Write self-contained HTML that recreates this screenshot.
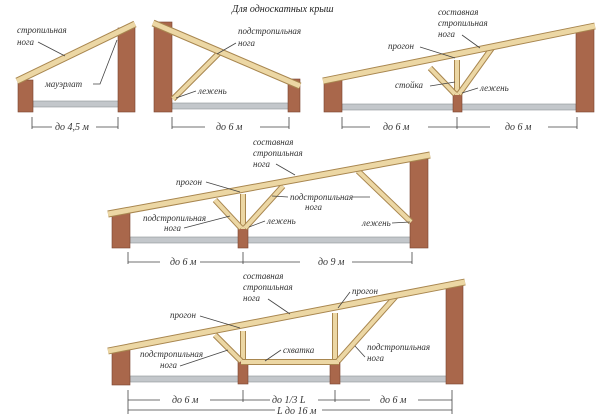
<!DOCTYPE html>
<html><head><meta charset="utf-8"><style>
html,body{margin:0;padding:0;background:#fff;}
svg{display:block}
text{font-family:"Liberation Serif",serif;font-style:italic;font-size:9px;fill:#333}
.d{font-size:10px}
</style></head><body>
<svg width="600" height="418" viewBox="0 0 600 418" xmlns="http://www.w3.org/2000/svg">
<defs>
<g id="x"></g>
</defs>
<style>
.w{fill:#a9674b;stroke:#7a4430;stroke-width:.6}
.bm{fill:#c3c7cb;stroke:#8e9396;stroke-width:.6}
.ro{stroke:#a8864f;stroke-width:7;stroke-linecap:butt}
.ri{stroke:#ecd7a4;stroke-width:5;stroke-linecap:butt}
.so{stroke:#a8864f;stroke-width:6}
.si{stroke:#ecd7a4;stroke-width:4}
.dl{stroke:#444;stroke-width:.8}
.ld{stroke:#444;stroke-width:.8;fill:none}
</style>
<text x="232" y="12" style="font-size:10px;fill:#222">Для односкатных крыш</text>

<!-- Diagram 1 -->
<rect class="bm" x="33" y="101" width="86" height="6"/>
<rect class="w" x="18" y="80" width="15" height="32"/>
<rect class="w" x="118" y="28" width="17" height="84"/>
<line class="ro" x1="17" y1="81" x2="135" y2="24"/><line class="ri" x1="17" y1="81" x2="135" y2="24"/>
<text x="17" y="33">стропильная</text><text x="17" y="45">нога</text>
<path class="ld" d="M38 42 L65 56"/>
<text x="45" y="87">мауэрлат</text><path class="ld" d="M93 84 L100 84 L117 40"/>
<path class="dl" d="M32 117V129M118 117V129M32 127H52M96 127H118"/>
<text class="d" x="55" y="130">до 4,5 м</text>

<!-- Diagram 2 -->
<rect class="bm" x="172" y="103" width="117" height="6"/>
<rect class="w" x="154" y="22" width="18" height="90"/>
<rect class="w" x="288" y="79" width="12" height="33"/>
<line class="so" x1="173" y1="99" x2="220" y2="52"/><line class="si" x1="173" y1="99" x2="220" y2="52"/>
<line class="ro" x1="153" y1="23" x2="300" y2="86"/><line class="ri" x1="153" y1="23" x2="300" y2="86"/>
<text x="238" y="34">подстропильная</text><text x="238" y="46">нога</text>
<path class="ld" d="M236 43 L217 54"/>
<text x="198" y="94">лежень</text><path class="ld" d="M196 91 L176 98"/>
<path class="dl" d="M172 117V129M289 117V129M172 127H205M260 127H289"/>
<text class="d" x="216" y="130">до 6 м</text>

<!-- Diagram 3 -->
<rect class="bm" x="342" y="104" width="234" height="6"/>
<rect class="w" x="324" y="80" width="18" height="32"/>
<rect class="w" x="453" y="94" width="9" height="18"/>
<rect class="w" x="576" y="28" width="18" height="84"/>
<line class="so" x1="457" y1="60" x2="457" y2="95"/><line class="si" x1="457" y1="60" x2="457" y2="95"/>
<line class="so" x1="455" y1="94" x2="430" y2="68"/><line class="si" x1="455" y1="94" x2="430" y2="68"/>
<line class="so" x1="459" y1="94" x2="492" y2="48"/><line class="si" x1="459" y1="94" x2="492" y2="48"/>
<line class="ro" x1="323" y1="81" x2="595" y2="26"/><line class="ri" x1="323" y1="81" x2="595" y2="26"/>
<text x="438" y="15">составная</text><text x="438" y="26">стропильная</text><text x="438" y="37">нога</text>
<path class="ld" d="M462 35 L480 48"/>
<text x="388" y="49">прогон</text><path class="ld" d="M420 47 L455 58"/>
<text x="395" y="88">стойка</text><path class="ld" d="M430 86 L455 82"/>
<text x="480" y="91">лежень</text><path class="ld" d="M478 88 L462 93"/>
<path class="dl" d="M342 117V129M457 117V129M577 117V129M342 127H370M428 127H457M457 127H490M548 127H577"/>
<text class="d" x="383" y="130">до 6 м</text><text class="d" x="505" y="130">до 6 м</text>

<!-- Diagram 4 -->
<rect class="bm" x="130" y="237" width="282" height="6"/>
<rect class="w" x="112" y="211" width="18" height="37"/>
<rect class="w" x="238" y="227" width="10" height="21"/>
<rect class="w" x="410" y="159" width="18" height="89"/>
<line class="so" x1="243" y1="194" x2="243" y2="229"/><line class="si" x1="243" y1="194" x2="243" y2="229"/>
<line class="so" x1="241" y1="228" x2="215" y2="200"/><line class="si" x1="241" y1="228" x2="215" y2="200"/>
<line class="so" x1="245" y1="228" x2="283" y2="186"/><line class="si" x1="245" y1="228" x2="283" y2="186"/>
<line class="so" x1="411" y1="222" x2="358" y2="171"/><line class="si" x1="411" y1="222" x2="358" y2="171"/>
<line class="ro" x1="108" y1="214" x2="430" y2="155"/><line class="ri" x1="108" y1="214" x2="430" y2="155"/>
<text x="253" y="145">составная</text><text x="253" y="156">стропильная</text><text x="253" y="167">нога</text>
<path class="ld" d="M276 164 L295 175"/>
<text x="176" y="185">прогон</text><path class="ld" d="M206 182 L240 192"/>
<text x="143" y="221">подстропильная</text><text x="164" y="231">нога</text>
<path class="ld" d="M184 228 L230 216"/>
<text x="290" y="200">подстропильная</text><text x="305" y="210">нога</text>
<path class="ld" d="M288 197 L272 196"/><path class="ld" d="M352 197 L370 197"/>
<text x="267" y="224">лежень</text><path class="ld" d="M265 221 L249 227"/>
<text x="362" y="226">лежень</text><path class="ld" d="M392 223 L410 222"/>
<path class="dl" d="M128 252V264M243 252V264M412 252V264M128 262H160M200 262H243M243 262H300M352 262H412"/>
<text class="d" x="170" y="265">до 6 м</text><text class="d" x="318" y="265">до 9 м</text>

<!-- Diagram 5 -->
<rect class="bm" x="130" y="376" width="318" height="6"/>
<rect class="w" x="112" y="350" width="18" height="35"/>
<rect class="w" x="238" y="362" width="10" height="22"/>
<rect class="w" x="330" y="362" width="10" height="22"/>
<rect class="w" x="446" y="285" width="17" height="99"/>
<line class="so" x1="243" y1="331" x2="243" y2="362"/><line class="si" x1="243" y1="331" x2="243" y2="362"/>
<line class="so" x1="335" y1="313" x2="335" y2="362"/><line class="si" x1="335" y1="313" x2="335" y2="362"/>
<line class="so" x1="241" y1="362" x2="339" y2="362"/><line class="si" x1="241" y1="362" x2="339" y2="362"/>
<line class="so" x1="241" y1="361" x2="215" y2="335"/><line class="si" x1="241" y1="361" x2="215" y2="335"/>
<line class="so" x1="338" y1="361" x2="396" y2="296"/><line class="si" x1="338" y1="361" x2="396" y2="296"/>
<line class="ro" x1="108" y1="351" x2="465" y2="282"/><line class="ri" x1="108" y1="351" x2="465" y2="282"/>
<text x="243" y="279">составная</text><text x="243" y="290">стропильная</text><text x="243" y="301">нога</text>
<path class="ld" d="M268 299 L290 314"/>
<text x="170" y="318">прогон</text><path class="ld" d="M200 316 L240 328"/>
<text x="352" y="294">прогон</text><path class="ld" d="M350 292 L338 308"/>
<text x="140" y="357">подстропильная</text><text x="160" y="368">нога</text>
<path class="ld" d="M180 366 L228 350"/>
<text x="283" y="353">схватка</text><path class="ld" d="M281 350 L265 361"/>
<text x="367" y="350">подстропильная</text><text x="367" y="361">нога</text>
<path class="ld" d="M365 357 L355 346"/>
<path class="dl" d="M128 390V414M243 390V402M335 390V402M452 390V414M128 400H160M210 400H243M243 400H270M318 400H335M335 400H370M418 400H452M128 410H275M322 410H452"/>
<text class="d" x="172" y="403">до 6 м</text><text class="d" x="272" y="403">до 1/3 L</text><text class="d" x="380" y="403">до 6 м</text>
<text class="d" x="277" y="414">L до 16 м</text>
</svg>
</body></html>
